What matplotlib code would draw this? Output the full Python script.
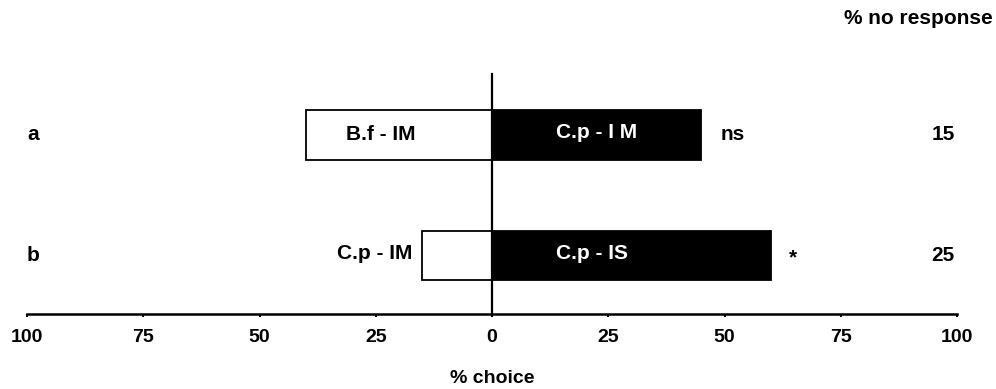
import numpy as np
import matplotlib
matplotlib.use("Agg")
import matplotlib.pyplot as plt

plt.rcParams['font.family'] = ['Liberation Sans', 'DejaVu Sans']
plt.rcParams['font.weight'] = 'bold'

# data
rows = ['a', 'b']
left_pct = [40, 15]          # white bars (left side)
right_pct = [45, 60]         # black bars (right side)
left_names = ['B.f - IM', 'C.p - IM']
right_names = ['C.p - I M', 'C.p - IS']
signif = ['ns', '*']
no_response = [15, 25]
ticks = [-100, -75, -50, -25, 0, 25, 50, 75, 100]

fs = 15
fig = plt.figure(figsize=(9.96, 3.89), dpi=100)
ax = fig.add_axes([27 / 996, 75 / 389, 930 / 996, 240 / 389])

ypos = np.array([1, 0])
h = 0.41
ax.barh(ypos, -np.array(left_pct), height=h, color='white', edgecolor='black', linewidth=1.3)
ax.barh(ypos, right_pct, height=h, color='black', edgecolor='black', linewidth=1.3)

ax.set_xlim(-100, 100)
ax.set_ylim(-0.485, 1.506)

for s in ['top', 'right']:
    ax.spines[s].set_visible(False)
ax.spines['left'].set_position(('data', 0))
ax.spines['left'].set_linewidth(1.6)
ax.spines['bottom'].set_linewidth(1.8)
ax.set_yticks([])
ax.set_xticks(ticks)
ax.set_xticklabels([str(abs(t)) for t in ticks])
ax.tick_params(axis='x', length=2, width=1.5, pad=9, labelsize=14)
for lab in ax.get_xticklabels():
    lab.set_fontweight('bold')
ax.set_xlabel('% choice', fontsize=14, fontweight='bold', labelpad=17)

for i, y in enumerate(ypos):
    ax.text(-98.7, y, rows[i], ha='center', va='center', fontsize=fs, fontweight='bold')
    ax.text(97, y, str(no_response[i]), ha='center', va='center', fontsize=fs, fontweight='bold')
    ax.text(13.8, y + 0.02, right_names[i], ha='left', va='center', fontsize=fs,
            fontweight='bold', color='white')
    if i == 0:
        ax.text(-24, y, left_names[i], ha='center', va='center', fontsize=fs, fontweight='bold')
    else:
        ax.text(-17.2, y + 0.02, left_names[i], ha='right', va='center', fontsize=fs, fontweight='bold')
ax.text(49.2, ypos[0], signif[0], ha='left', va='center', fontsize=fs, fontweight='bold')
ax.text(64.7, ypos[1] - 0.02, signif[1], ha='center', va='center', fontsize=fs, fontweight='bold')

fig.text(993 / 996, 1 - 18 / 389, '% no response', ha='right', va='center',
         fontsize=fs, fontweight='bold')

fig.savefig('out.png', dpi=100)
